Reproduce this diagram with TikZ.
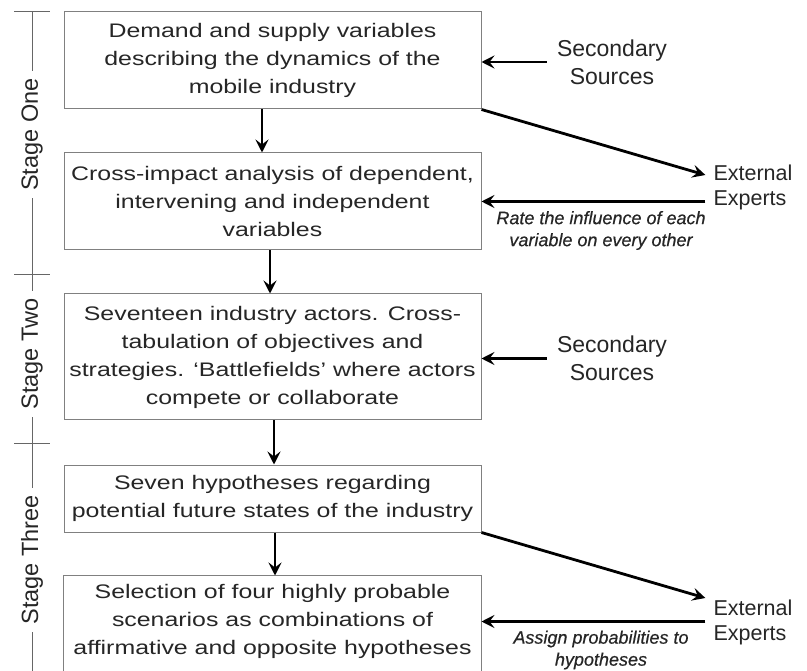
\documentclass[tikz,border=0pt]{standalone}
\usepackage{fontspec}
\setmainfont{Liberation Sans}
\newfontfamily\boxfont[FakeStretch=1.27]{Liberation Sans}
\newfontfamily\lblfont[FakeBold=0.5]{Liberation Sans}
\usetikzlibrary{arrows.meta}
\begin{document}
\begin{tikzpicture}[x=1pt,y=-1pt,
  box/.style={draw=black!50, line width=1pt, minimum width=417pt, align=center, inner sep=0pt,
    text=black!85, font=\boxfont\fontsize{19.6}{28}\selectfont},
  arr/.style={line width=2.8pt, -{Stealth[length=13pt,width=13pt,inset=5pt]}},
  src/.style={align=center, inner sep=10pt, text=black!85, font=\fontsize{23}{28}\selectfont},
  ext/.style={align=left, inner sep=8pt, text=black!85, font=\fontsize{21.5}{25}\selectfont},
  lbl/.style={align=center, inner sep=0pt, text=black!85, font=\lblfont\itshape\fontsize{18}{22}\selectfont},
  stagelbl/.style={rotate=90, fill=white, inner xsep=7pt, inner ysep=0pt, text=black!85, font=\fontsize{23.5}{28}\selectfont},
  stageline/.style={draw=black!60, line width=1pt}
]
\useasboundingbox (0,0) rectangle (807,671);
\fill[white] (0,0) rectangle (807,671);

% stage bar
\coordinate (t1) at (32,12);
\coordinate (t2) at (32,275);
\coordinate (t3) at (32,444);
\coordinate (tb) at (32,671);
\draw[stageline] (t1) -- (tb);
\draw[stageline] ([xshift=-18pt]t1) -- ([xshift=18pt]t1);
\draw[stageline] ([xshift=-18pt]t2) -- ([xshift=18pt]t2);
\draw[stageline] ([xshift=-18pt]t3) -- ([xshift=18pt]t3);
\node[stagelbl] (s1) at (32,134.5) {Stage One};
\node[stagelbl] (s2) at (32,354) {Stage Two};
\node[stagelbl] (s3) at (32,560) {Stage Three};

% boxes
\node[box, minimum height=97pt] (b1) at (272.5,60.5) {Demand and supply variables\\describing the dynamics of the\\mobile industry};
\node[box, minimum height=97pt] (b2) at (272.5,201.5) {Cross-impact analysis of dependent,\\intervening and independent\\variables};
\node[box, minimum height=126pt] (b3) at (272.5,357) {Seventeen industry actors. Cross-\\tabulation of objectives and\\strategies. ‘Battlefields’ where actors\\compete or collaborate};
\node[box, minimum height=67pt] (b4) at (272.5,498.5) {Seven hypotheses regarding\\potential future states of the industry};
\node[box, draw=none, minimum height=91pt] (b5) at (272.5,621.5) {Selection of four highly probable\\scenarios as combinations of\\affirmative and opposite hypotheses};
\draw[draw=black!50, line width=1pt] ([yshift=-12pt]b5.south west) |- (b5.north east) -- ([yshift=-12pt]b5.south east);

% vertical flow arrows
\draw[arr] ([xshift=-10.5pt]b1.south) -- ([xshift=-10.5pt]b2.north);
\draw[arr] ([xshift=-2.5pt]b2.south) -- ([xshift=-2.5pt]b3.north);
\draw[arr] ([xshift=1.5pt]b3.south) -- ([xshift=1.5pt]b4.north);
\draw[arr] ([xshift=2.5pt]b4.south) -- ([xshift=2.5pt]b5.north);

% secondary sources
\node[src] (ss1) at (612,62) {Secondary\\Sources};
\node[src] (ss2) at (612,358.5) {Secondary\\Sources};
\draw[arr] (ss1.west) -- (ss1.west -| b1.east);
\draw[arr] (ss2.west) -- (ss2.west -| b3.east);

% external experts
\node[ext] (e1) at (753,187) {External\\Experts};
\node[ext] (e2) at (753,622.5) {External\\Experts};
\draw[arr] (b1.south east) -- ([yshift=12pt]e1.west);
\draw[arr] (e1.west |- b2.east) -- (b2.east);
\draw[arr] (b4.south east) -- ([yshift=24.5pt]e2.west);
\draw[arr] (e2.west |- b5.east) -- (b5.east);

% italic labels
\node[lbl] (l1) at (601,230.5) {Rate the influence of each\\variable on every other};
\node[lbl] (l2) at (601,650) {Assign probabilities to\\hypotheses};
\end{tikzpicture}
\end{document}
